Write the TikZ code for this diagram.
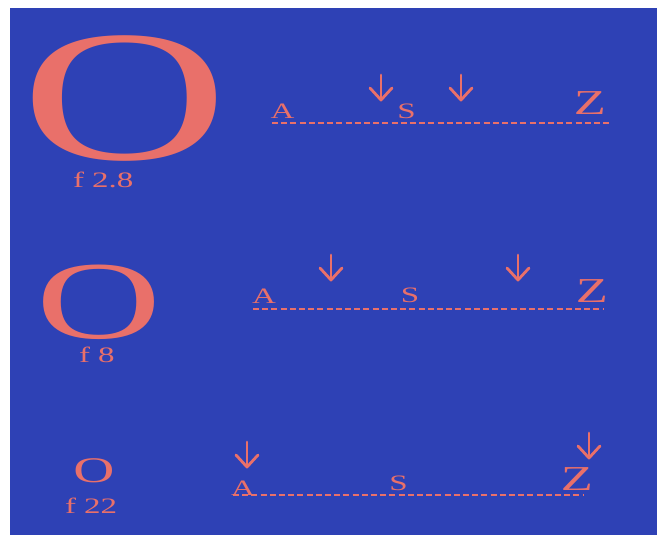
\documentclass[tikz,border=0pt]{standalone}
\usepackage{fontspec}
\setmainfont{Liberation Serif}
\definecolor{bgblue}{HTML}{2E41B5}
\definecolor{salmon}{HTML}{E9706A}
\tikzset{
  lbl/.style={text=salmon, inner sep=0pt, outer sep=0pt, anchor=base},
  bigo/.style={lbl, text depth=0pt},
  letter/.style={lbl, xscale=1.5, font=\fontsize{22}{22}\selectfont},
  zletter/.style={lbl, xscale=1.5, font=\fontsize{35}{35}\selectfont},
  fnum/.style={lbl, anchor=base west, xscale=1.5, font=\fontsize{22}{22}\selectfont},
  dashline/.style={draw=salmon, line width=2.3pt, dash pattern=on 6pt off 3.2pt},
  arrowline/.style={draw=salmon, line width=2.8pt, line cap=round, line join=round},
  darr/.pic={\draw[arrowline] (0,0) -- (0,25); \draw[arrowline] (-11,13) -- (0,25) -- (11,13);}
}
\begin{document}
\begin{tikzpicture}[x=1pt,y=-1pt]
\useasboundingbox (0,0) rectangle (657,535);
\fill[white] (0,0) rectangle (657,535);
\fill[bgblue] (10,8) rectangle (657,535);

% lens openings
\node[bigo, xscale=1.53, font=\fontsize{187}{187}\selectfont] (o1) at (124.5,159.4) {O};
\node[fnum] (f1) at (73,187) {f 2.8};
\node[bigo, xscale=1.56, font=\fontsize{111}{111}\selectfont] (o2) at (99.5,338.4) {O};
\node[fnum] (f2) at (79,362) {f 8};
\node[bigo, xscale=1.58, font=\fontsize{36}{36}\selectfont] (o3) at (94,482.5) {O};
\node[fnum] (f3) at (65,513) {f 22};

% row 1
\coordinate (l1a) at (272,123);
\coordinate (l1b) at (612,123);
\draw[dashline] (l1a) -- (l1b);
\node[letter] (a1) at (282.5,118) {A};
\node[letter] (s1) at (406.5,118.5) {S};
\node[zletter] (z1) at (590,115) {Z};
\pic (r1p) at (381,75) {darr};
\pic (r1q) at (461,75) {darr};

% row 2
\coordinate (l2a) at (253,309);
\coordinate (l2b) at (603,309);
\draw[dashline] (l2a) -- (l2b);
\node[letter] (a2) at (264,303) {A};
\node[letter] (s2) at (410,302.5) {S};
\node[zletter] (z2) at (592,302) {Z};
\pic (r2p) at (331,255) {darr};
\pic (r2q) at (518,255) {darr};

% row 3
\coordinate (l3a) at (233,495);
\coordinate (l3b) at (583,495);
\draw[dashline] (l3a) -- (l3b);
\node[letter] (a3) at (243,495) {A};
\node[letter] (s3) at (398.5,490) {S};
\node[zletter] (z3) at (577,490) {Z};
\pic (r3p) at (247,442) {darr};
\pic (r3q) at (589,433) {darr};
\end{tikzpicture}
\end{document}
